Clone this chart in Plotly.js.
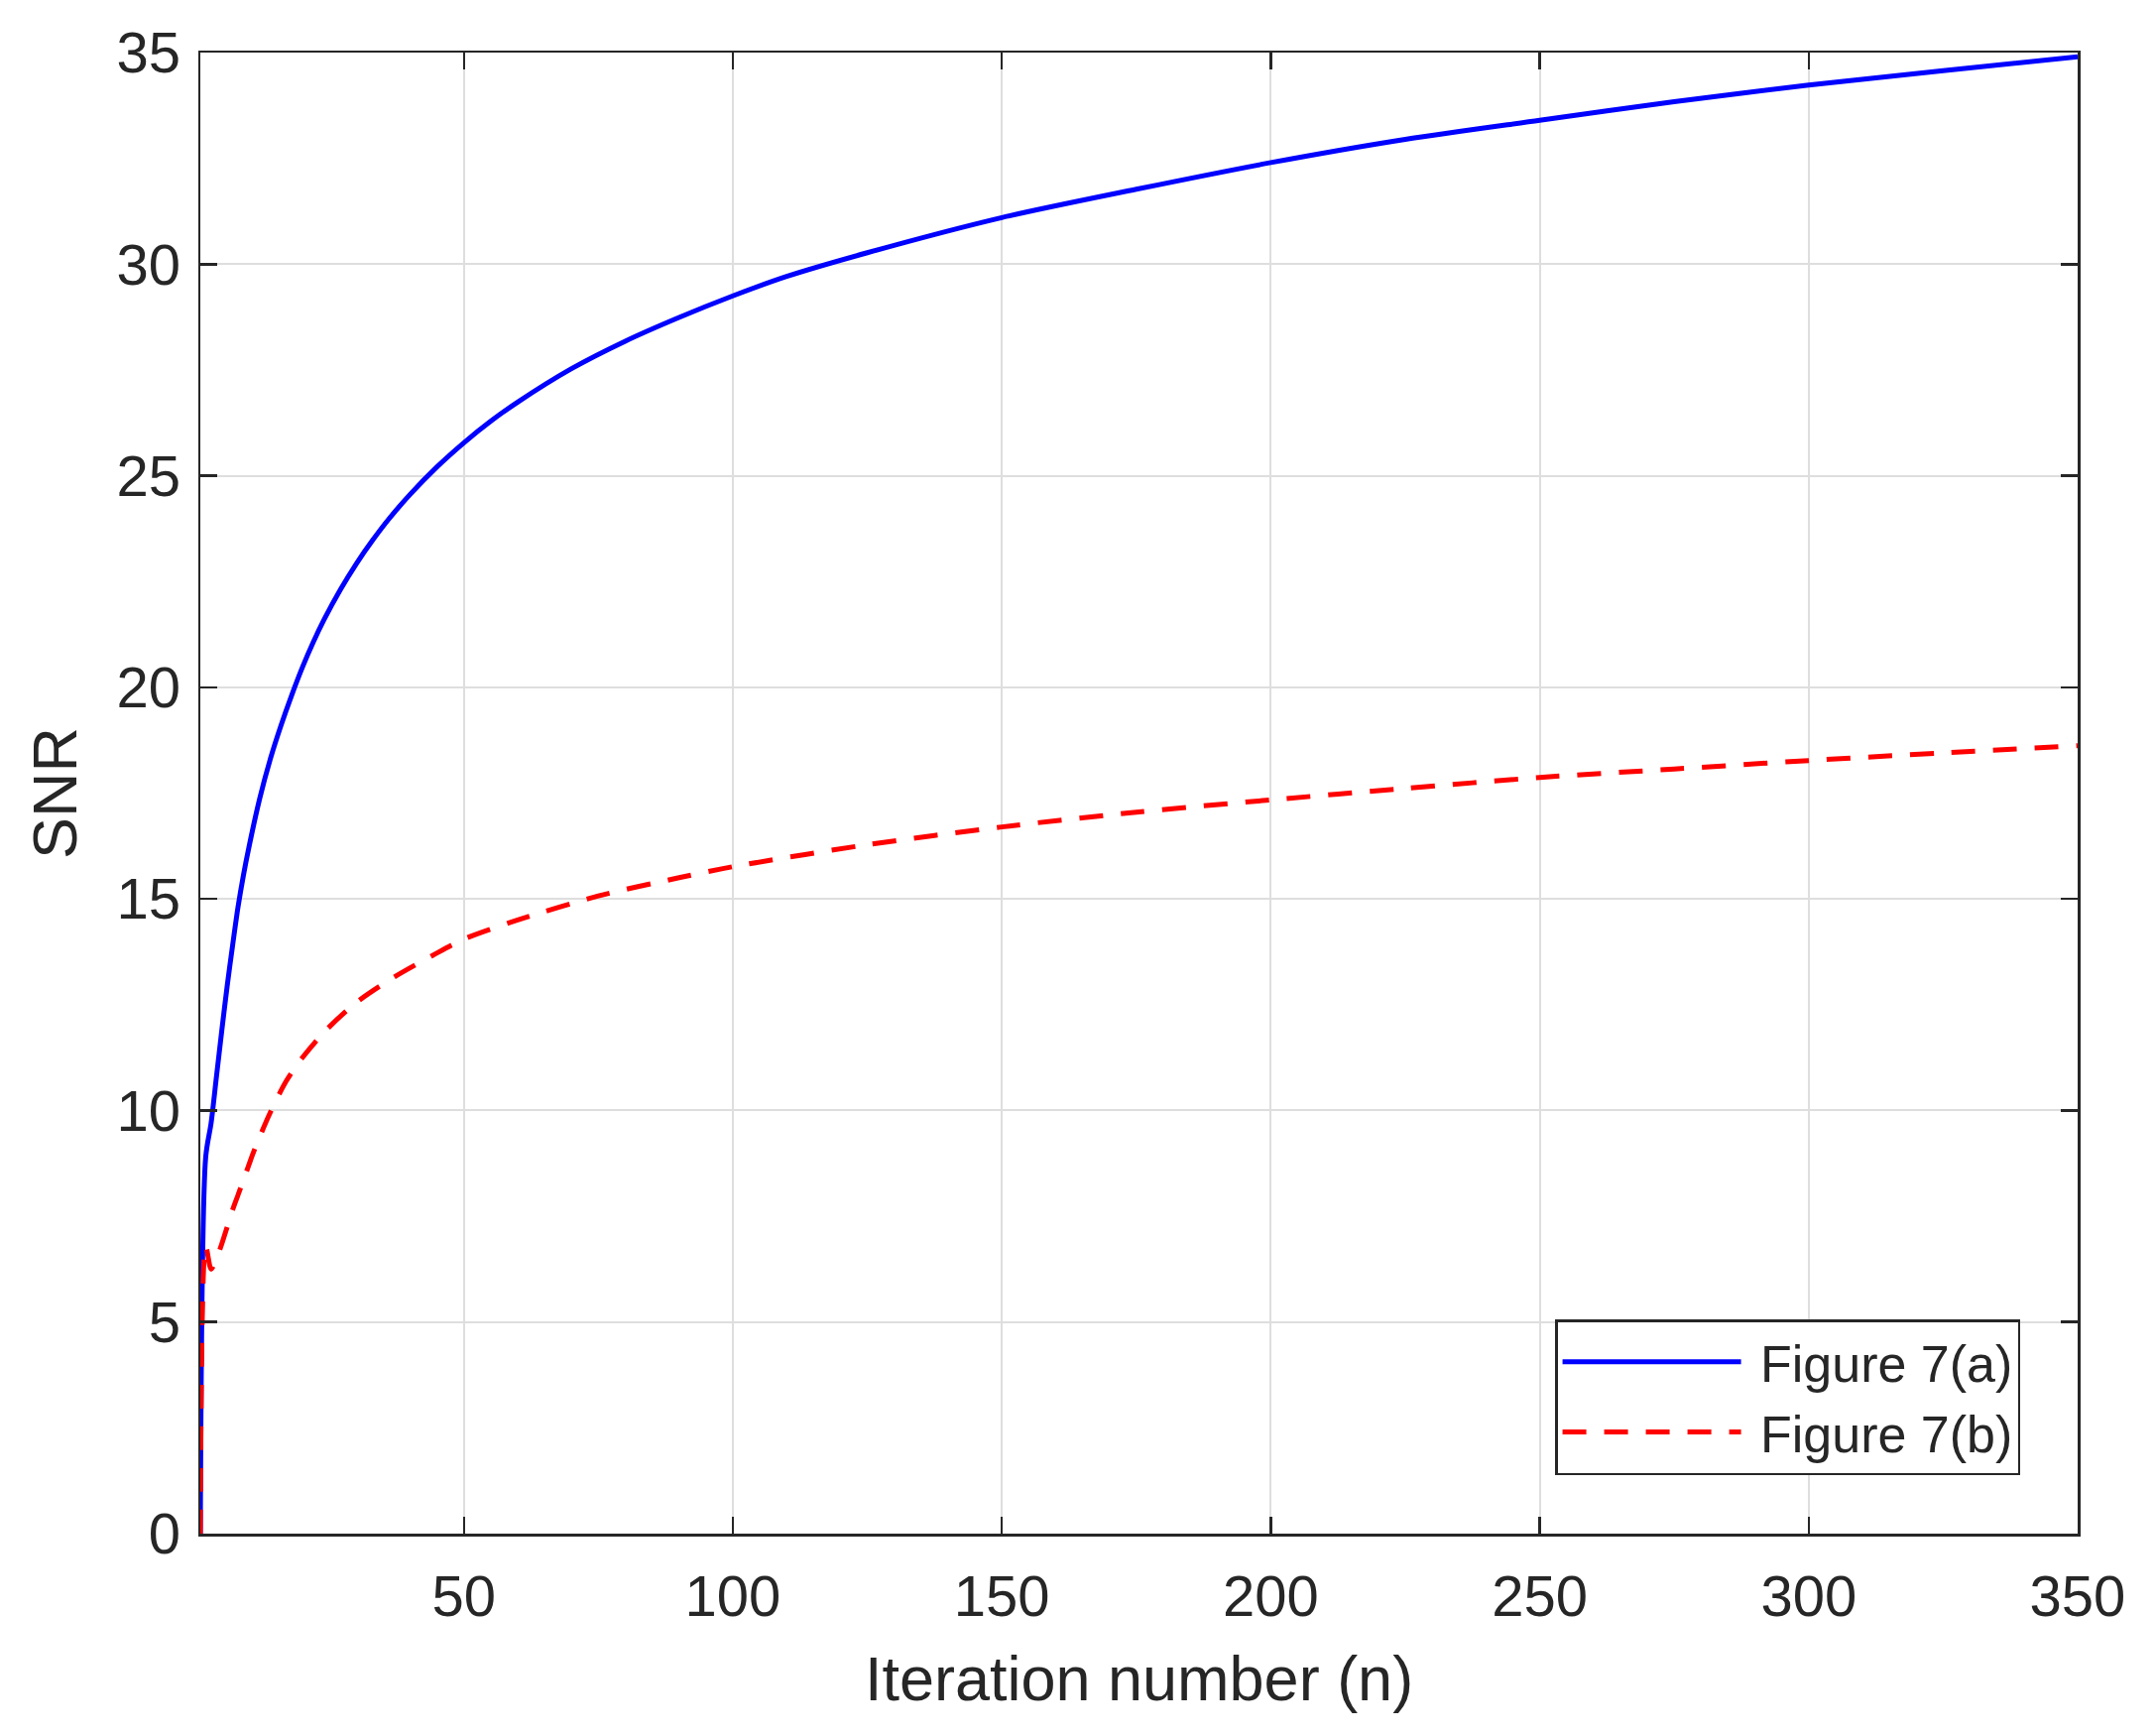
<!DOCTYPE html>
<html>
<head>
<meta charset="utf-8">
<script src="https://cdn.plot.ly/plotly-3.0.1.min.js"></script>
<style>
  html, body { margin: 0; padding: 0; background: #fff; }
  #snrplot { width: 2174px; height: 1749px; }
</style>
</head>
<body>
<div id="snrplot"></div>
<script>
// iteration numbers and SNR values
var iterA = [1, 2, 3, 4, 5, 6, 7, 8, 9, 10, 12, 14, 16, 18, 20, 22, 24, 27, 30, 33, 36, 40, 45, 50,
             55, 60, 70, 80, 90, 100, 110, 125, 150, 175, 200, 225, 250, 275, 300, 325, 350];
var snrA = [0, 8.9, 9.7, 10.8, 11.9, 12.95, 13.9, 14.8, 15.55, 16.2, 17.35, 18.3, 19.1, 19.82,
            20.48, 21.07, 21.6, 22.3, 22.92, 23.47, 23.97, 24.56, 25.21, 25.78,
            26.29, 26.74, 27.53, 28.18, 28.74, 29.25, 29.71, 30.27, 31.1, 31.77, 32.4, 32.95,
            33.4, 33.84, 34.23, 34.57, 34.9];

var iterB = [1, 2, 3, 4, 5, 6, 7, 8, 9, 11, 14, 17, 20, 24, 30, 37, 44, 50,
             60, 75, 90, 100, 125, 150, 175, 200, 225, 250, 275, 300, 325, 350];
var snrB = [0, 6.8, 6.25, 6.5, 6.85, 7.25, 7.65, 8.0, 8.35, 9.05, 9.95, 10.7, 11.25, 11.85,
            12.55, 13.15, 13.65, 14.05,
            14.5, 15.07, 15.5, 15.76, 16.28, 16.70, 17.05, 17.34, 17.61, 17.87, 18.07, 18.27, 18.45, 18.62];

var seriesNames = ["Figure 7(a)", "Figure 7(b)"];
var xTicks = [50, 100, 150, 200, 250, 300, 350];
var yTicks = [0, 5, 10, 15, 20, 25, 30, 35];

var axisColor = "#262626";
var gridColor = "#dedede";
var fontFamily = "Liberation Sans, Arial, Helvetica, sans-serif";

var traces = [
    {
        type: "scatter",
        mode: "lines",
        x: iterA,
        y: snrA,
        name: " " + seriesNames[0],
        line: { color: "#0000ff", width: 5, shape: "spline", smoothing: 0.8 }
    },
    {
        type: "scatter",
        mode: "lines",
        x: iterB,
        y: snrB,
        name: " " + seriesNames[1],
        line: { color: "#ff0000", width: 5, dash: "24px,18px", shape: "spline", smoothing: 0.8 }
    }
];

var layout = {
    width: 2174,
    height: 1749,
    paper_bgcolor: "#ffffff",
    plot_bgcolor: "#ffffff",
    margin: { l: 202, r: 79, t: 53, b: 203, pad: 0 },
    font: { family: fontFamily, color: axisColor },
    showlegend: true,
    legend: {
        x: 0.9694,
        y: 0.0395,
        xanchor: "right",
        yanchor: "bottom",
        bgcolor: "#ffffff",
        bordercolor: axisColor,
        borderwidth: 2.5,
        font: { family: fontFamily, size: 52, color: axisColor },
        itemwidth: 180,
        tracegroupgap: 0
    },
    xaxis: {
        range: [1, 350],
        tickvals: xTicks,
        ticktext: xTicks.map(String),
        ticks: "inside",
        ticklen: 17,
        tickwidth: 2.5,
        tickcolor: axisColor,
        showline: true,
        linecolor: axisColor,
        linewidth: 2.5,
        mirror: "ticks",
        showgrid: true,
        gridcolor: gridColor,
        gridwidth: 2,
        zeroline: false,
        tickfont: { family: fontFamily, size: 58, color: axisColor },
        ticklabelstandoff: 11,
        title: {
            text: "Iteration number (n)",
            font: { family: fontFamily, size: 63, color: axisColor },
            standoff: 30
        }
    },
    yaxis: {
        range: [0, 35],
        tickvals: yTicks,
        ticktext: yTicks.map(String),
        ticks: "inside",
        ticklen: 17,
        tickwidth: 2.5,
        tickcolor: axisColor,
        showline: true,
        linecolor: axisColor,
        linewidth: 2.5,
        mirror: "ticks",
        showgrid: true,
        gridcolor: gridColor,
        gridwidth: 2,
        zeroline: false,
        tickfont: { family: fontFamily, size: 58, color: axisColor },
        ticklabelstandoff: 6,
        title: {
            text: "SNR",
            font: { family: fontFamily, size: 63, color: axisColor },
            standoff: 20
        }
    }
};

Plotly.newPlot("snrplot", traces, layout, { displayModeBar: false, staticPlot: true });
</script>
</body>
</html>
